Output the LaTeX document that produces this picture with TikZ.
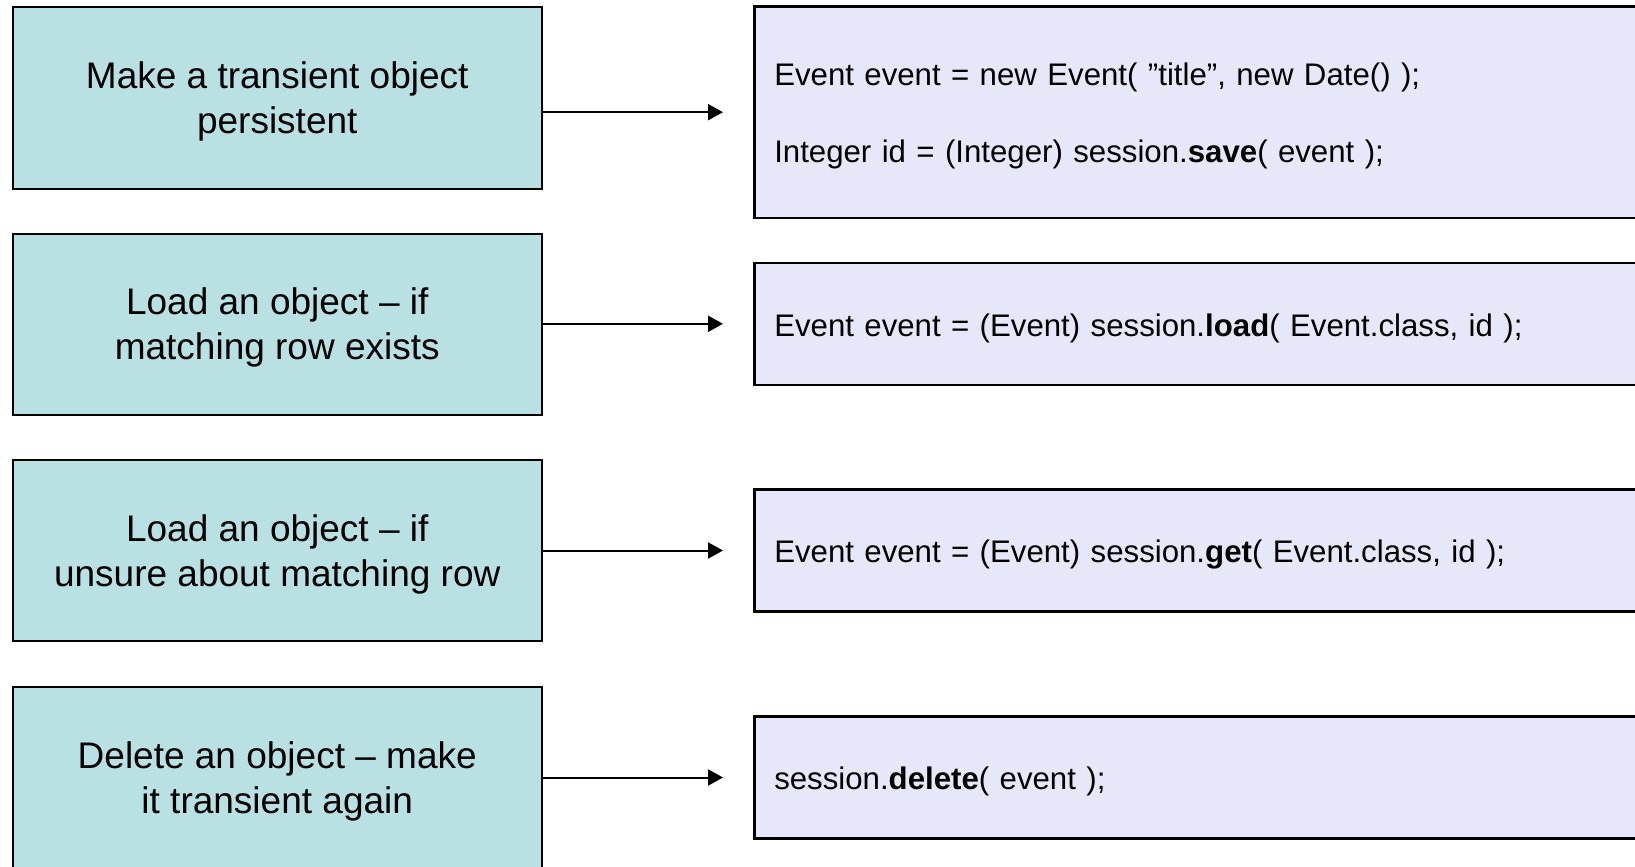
\documentclass[tikz,border=0pt]{standalone}
\usepackage{fontspec}
\setmainfont{Liberation Sans}
\usetikzlibrary{arrows.meta}

\definecolor{taskfill}{RGB}{185,224,227}
\definecolor{codefill}{RGB}{230,232,250}

\newcommand{\tasktext}[1]{\raisebox{-4pt}[\height][\depth]{\begin{tabular}{@{}c@{}}#1\end{tabular}}}
\newcommand{\codetext}[1]{\noindent\raisebox{-4.5pt}[\height][\depth]{\begin{tabular}{@{}l@{}}#1\end{tabular}}}

\tikzset{
  task/.style={draw, fill=taskfill, line width=2pt, minimum width=529.5pt, minimum height=181.4pt,
    align=center, font=\fontsize{37}{45}\selectfont},
  code/.style={draw, fill=codefill, line width=2.5pt, anchor=west, text width=880pt, inner xsep=20pt,
    align=left, font=\fontsize{31.2}{38.5}\selectfont},
  calls/.style={line width=2pt, -{Triangle[length=15pt,width=16pt]}, shorten >=30pt}
}

\begin{document}
\begin{tikzpicture}[x=1pt, y=-1pt]
    \clip (0, 0) rectangle (1635, 867);
    \fill[white] (0, 0) rectangle (1635, 867);
    \node[task] (persist) at (277.25, 98) {\tasktext{Make a transient object\\persistent}};
    \node[task] (load) at (277.25, 324.3) {\tasktext{Load an object -- if\\matching row exists}};
    \node[task] (get) at (277.25, 550.5) {\tasktext{Load an object -- if\\unsure about matching row}};
    \node[task] (delete) at (277.25, 777.6) {\tasktext{Delete an object -- make\\it transient again}};
    \node[code, minimum height=211.7pt] (save) at (753, 112.2)
        {\codetext{Event event = new Event( ”title”, new Date() );\\[38.5pt]Integer id = (Integer) session.\textbf{save}( event );}};
    \node[code, minimum height=122pt] (loadcall) at (753, 323.8)
        {\codetext{Event event = (Event) session.\textbf{load}( Event.class, id );}};
    \node[code, minimum height=122pt] (getcall) at (753, 550.5)
        {\codetext{Event event = (Event) session.\textbf{get}( Event.class, id );}};
    \node[code, minimum height=122pt] (deletecall) at (753, 777.5)
        {\codetext{session.\textbf{delete}( event );}};
    \draw[calls] (persist.east |- save.west) -- (save.west);
    \draw[calls] (load.east |- loadcall.west) -- (loadcall.west);
    \draw[calls] (get.east |- getcall.west) -- (getcall.west);
    \draw[calls] (delete.east |- deletecall.west) -- (deletecall.west);
\end{tikzpicture}
\end{document}
